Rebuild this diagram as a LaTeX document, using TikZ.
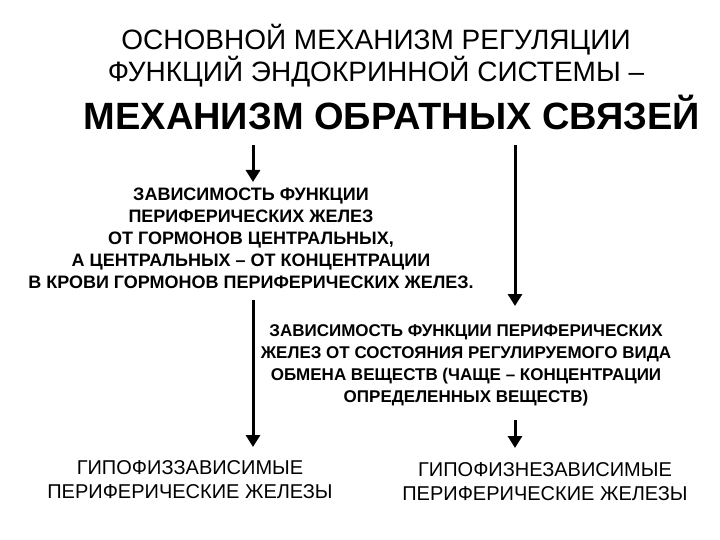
\documentclass[tikz,border=0pt]{standalone}
\usepackage{fontspec}
\setmainfont{Liberation Sans}
\usetikzlibrary{arrows.meta}
\begin{document}
\begin{tikzpicture}[x=1pt,y=-1pt,
 ttl/.style={font=\fontsize{28}{32}\selectfont, align=center},
 blk/.style={font=\bfseries\fontsize{18}{22}\selectfont, align=center},
 bot/.style={font=\fontsize{20}{24}\selectfont, align=center},
 arr/.style={line width=3pt,-{Triangle[length=12pt,width=14pt]}}]
\useasboundingbox (0,0) rectangle (720,540);
\node[ttl] (t1) at (376,56) {ОСНОВНОЙ МЕХАНИЗМ РЕГУЛЯЦИИ\\ФУНКЦИЙ ЭНДОКРИННОЙ СИСТЕМЫ –};
\node[ttl,font=\bfseries\fontsize{38}{40}\selectfont] (t2) at (392,112) {МЕХАНИЗМ ОБРАТНЫХ СВЯЗЕЙ};
\coordinate (a1s) at (253,145);
\coordinate (a2s) at (515,145);
\node[blk] (b1) at (251,238) {ЗАВИСИМОСТЬ ФУНКЦИИ\\ПЕРИФЕРИЧЕСКИХ ЖЕЛЕЗ\\ОТ ГОРМОНОВ ЦЕНТРАЛЬНЫХ,\\А ЦЕНТРАЛЬНЫХ – ОТ КОНЦЕНТРАЦИИ\\В КРОВИ ГОРМОНОВ ПЕРИФЕРИЧЕСКИХ ЖЕЛЕЗ.};
\node[blk,font=\bfseries\fontsize{17}{22}\selectfont] (b2) at (466,365) {ЗАВИСИМОСТЬ ФУНКЦИИ ПЕРИФЕРИЧЕСКИХ\\ЖЕЛЕЗ ОТ СОСТОЯНИЯ РЕГУЛИРУЕМОГО ВИДА\\ОБМЕНА ВЕЩЕСТВ (ЧАЩЕ – КОНЦЕНТРАЦИИ\\ОПРЕДЕЛЕННЫХ ВЕЩЕСТВ)};
\node[bot] (c1) at (190,480) {ГИПОФИЗЗАВИСИМЫЕ\\ПЕРИФЕРИЧЕСКИЕ ЖЕЛЕЗЫ};
\node[bot] (c2) at (545,482) {ГИПОФИЗНЕЗАВИСИМЫЕ\\ПЕРИФЕРИЧЕСКИЕ ЖЕЛЕЗЫ};
\coordinate (a1e) at (253,182);
\coordinate (a2e) at (515,306);
\coordinate (a3s) at (253,300);
\coordinate (a3e) at (253,447);
\coordinate (a4s) at (515,420);
\coordinate (a4e) at (515,448);
\draw[arr] (a1s) -- (a1e);
\draw[arr] (a2s) -- (a2e);
\draw[arr] (a3s) -- (a3e);
\draw[arr] (a4s) -- (a4e);
\end{tikzpicture}
\end{document}
